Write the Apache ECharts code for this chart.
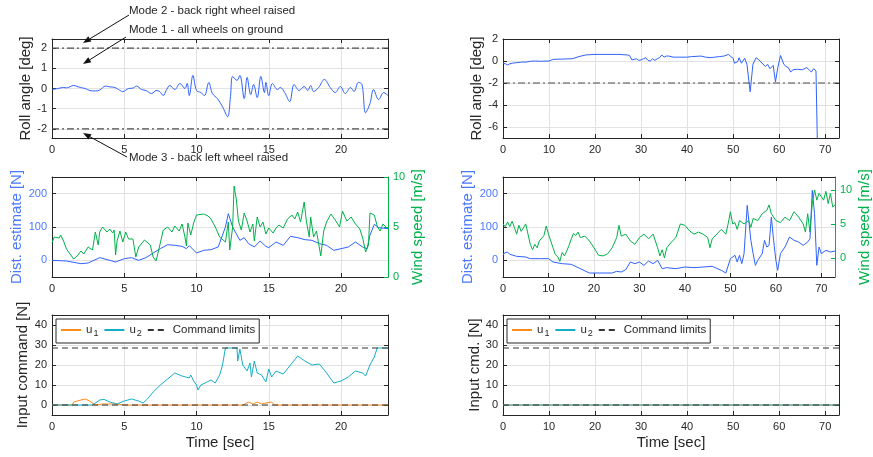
<!DOCTYPE html>
<html><head><meta charset="utf-8">
<script src="https://cdn.jsdelivr.net/npm/echarts@6/dist/echarts.min.js"></script>
<style>html,body{margin:0;padding:0;background:#fff}#c{width:873px;height:457px}</style>
</head><body><div id="c"></div>
<script>
// ---------------- DATA ----------------
const xRangeLeft = [0, 23.25];
const xRangeRight = [0, 73];
const xTicksLeft = [0, 5, 10, 15, 20];
const xTicksRight = [0, 10, 20, 30, 40, 50, 60, 70];
const rollTicksLeft = [-2, -1, 0, 1, 2];
const rollTicksRight = [-6, -4, -2, 0, 2];
const distTicks = [0, 100, 200];
const windTicks = [0, 5, 10];
const cmdTicks = [0, 10, 20, 30, 40];
const modeLimitsLeft = [2, -2];
const modeLimitsRight = [-2];
const commandLimits = [28.5, 0];

const rollLeft = [[0,-0.05],[0.4,0.0],[0.8,0.05],[1.0,0.03],[1.5,0.15],[1.95,0.05],[2.3,0.0],[2.6,-0.1],[3.0,-0.12],[3.3,-0.08],[3.7,0.12],[4.0,0.08],[4.35,0.05],[4.6,-0.05],[4.9,-0.15],[5.3,0.0],[5.6,0.02],[5.85,0.12],[6.2,-0.05],[6.5,-0.1],[6.9,-0.25],[7.2,-0.1],[7.45,-0.15],[7.7,-0.35],[7.9,-0.1],[8.15,0.15],[8.5,-0.05],[8.85,0.25],[9.2,0.0],[9.35,0.25],[9.5,-0.35],[9.75,0.65],[10.0,-0.1],[10.3,-0.2],[10.55,-0.35],[10.85,0.3],[11.1,-0.25],[11.45,-0.5],[11.8,-0.9],[12.15,-1.4],[12.35,-0.4],[12.5,0.6],[12.8,0.4],[13.0,0.65],[13.3,-0.5],[13.5,0.55],[13.75,-0.3],[13.95,0.2],[14.2,-0.45],[14.45,0.6],[14.7,-0.2],[14.8,0.3],[15.0,-0.35],[15.25,0.25],[15.6,-0.05],[15.8,0.05],[16.1,-0.2],[16.45,-0.65],[16.75,0.2],[17.1,-0.1],[17.45,0.1],[17.7,-0.1],[17.9,0.15],[18.1,-0.15],[18.45,0.05],[18.85,0.45],[19.25,0.05],[19.6,-0.2],[19.95,0.1],[20.3,-0.25],[20.65,0.05],[20.9,-0.15],[21.2,0.3],[21.45,0.2],[21.7,-1.2],[22.0,-0.75],[22.25,-0.05],[22.6,-0.55],[22.95,-0.2],[23.25,-0.35]];

const rollRight = [[0,-0.2],[0.5,-0.25],[1,-0.35],[1.5,-0.25],[2,-0.2],[3,-0.15],[4,-0.1],[5,-0.1],[6,-0.02],[7,0.0],[8,-0.02],[10,0.0],[10.5,0.08],[11,0.15],[13,0.18],[15,0.2],[16.5,0.4],[18,0.55],[20,0.6],[25,0.6],[27,0.55],[27.5,0.5],[28,0.1],[28.5,0.15],[29,0.2],[29.5,0.05],[30,0.1],[30.5,0.2],[31,0.3],[31.5,0.05],[32,0.0],[32.5,0.2],[33,0.05],[33.5,0.2],[34,0.3],[34.5,0.55],[35,0.35],[35.5,0.45],[36,0.45],[37,0.35],[38,0.35],[40,0.35],[41,0.4],[43,0.45],[44,0.35],[45,0.3],[46,0.35],[47,0.4],[48,0.45],[49,0.6],[49.5,0.4],[50,0.25],[50.3,-0.2],[51,-0.05],[51.3,0.3],[51.8,-0.2],[52.5,0.25],[53,-0.3],[53.7,-2.8],[54.3,-0.3],[55,0.3],[55.6,0.1],[56,0.2],[57,-0.5],[57.5,-0.3],[58,-0.7],[58.7,-0.4],[59.2,-1.9],[59.7,-0.6],[60.3,0.5],[61,-0.3],[61.5,-0.5],[62,-0.6],[62.5,-1.0],[63,-0.8],[64,-0.75],[65,-0.8],[66,-0.6],[66.5,-0.8],[67,-1.0],[67.5,-0.7],[68,-0.9],[68.3,-7.5]];

const distLeft = [[0,0],[1,-2],[2,-10],[2.5,-8],[3.3,8],[4,0],[4.4,-5],[5,5],[5.5,8],[6,0],[6.5,8],[7,22],[7.5,35],[8,47],[8.5,45],[9,42],[9.3,35],[9.5,44],[10,22],[10.5,30],[11,32],[11.5,40],[12,100],[12.2,140],[12.5,100],[13,60],[13.3,68],[13.6,50],[14,40],[14.4,58],[14.8,42],[15,38],[15.5,55],[16,45],[16.5,72],[17,68],[17.5,62],[18,60],[18.5,50],[19,45],[19.5,30],[20,35],[20.5,40],[21,55],[21.5,40],[21.8,35],[22,75],[22.3,108],[22.6,98],[23.25,95]];

const windLeft = [[0,3.4],[0.15,4.0],[0.5,3.9],[0.6,4.2],[0.8,3.6],[1.0,2.8],[1.3,2.2],[1.5,1.8],[1.8,2.2],[2.0,2.6],[2.2,2.3],[2.5,3.0],[2.8,2.7],[3.0,4.5],[3.2,3.2],[3.3,4.5],[3.5,5.0],[3.8,4.5],[4.0,4.8],[4.2,4.4],[4.3,4.7],[4.4,2.2],[4.5,3.6],[4.7,4.6],[4.9,3.5],[5.1,4.5],[5.3,3.8],[5.6,3.8],[5.8,2.0],[6.0,3.0],[6.4,3.7],[6.8,3.2],[7.0,2.0],[7.2,1.6],[7.4,2.8],[7.7,4.7],[8.0,5.0],[8.3,4.5],[8.5,5.1],[8.8,4.6],[9.0,5.3],[9.2,4.0],[9.3,3.1],[9.4,5.4],[9.6,4.2],[9.8,5.4],[10.0,6.2],[10.5,6.3],[10.8,6.1],[11.0,5.8],[11.3,5.0],[11.6,4.0],[12.0,3.5],[12.2,5.5],[12.3,2.7],[12.5,5.0],[12.6,9.1],[12.75,7.8],[12.9,5.6],[13.1,4.7],[13.3,6.4],[13.5,5.6],[13.7,4.5],[13.9,5.3],[14.0,3.6],[14.2,6.0],[14.4,5.0],[14.6,5.5],[14.8,4.3],[15.0,4.9],[15.3,4.4],[15.5,4.9],[15.7,5.2],[16.0,4.9],[16.3,5.8],[16.6,6.2],[16.8,5.8],[17.0,6.5],[17.2,5.5],[17.45,7.5],[17.6,5.6],[17.8,4.0],[17.9,6.0],[18.1,4.0],[18.3,4.6],[18.6,2.1],[18.8,4.6],[19.0,5.5],[19.3,6.3],[19.6,5.7],[19.9,5.0],[20.1,6.6],[20.4,5.6],[20.7,6.0],[21.0,5.3],[21.3,4.8],[21.5,3.9],[21.7,2.5],[21.9,3.2],[22.0,6.4],[22.3,6.2],[22.5,5.1],[22.7,4.6],[22.9,5.3],[23.25,4.8]];

const distRight = [[0,15],[0.3,22],[1,25],[1.5,18],[3,12],[5,10],[6,5],[8,5],[10,5],[11,-5],[13,-10],[15,-12],[17,-25],[19,-38],[22,-38],[24,-38],[25,-33],[26,-35],[27,-28],[28,-5],[29,-10],[30,-5],[31,-15],[32,-2],[33,-10],[34,0],[35,-25],[36,-22],[38,-25],[40,-20],[42,-22],[44,-20],[46,-18],[48,-30],[49,-38],[50,5],[51,15],[51.5,-5],[52,15],[52.5,-10],[53,20],[53.7,165],[54.5,60],[55,20],[55.5,-15],[56,0],[57,20],[57.5,60],[58,40],[58.5,45],[59,130],[59.5,60],[60,0],[60.4,-30],[61,20],[62,40],[63,70],[64,60],[65,55],[66,45],[67,55],[67.5,65],[68,210],[68.5,140],[69,-15],[69.5,40],[70,20],[71,30],[72,25],[73,28]];

const windRight = [[0,5.0],[0.5,4.6],[1,5.3],[1.5,4.6],[2,5.4],[2.5,4.5],[3,3.5],[3.5,4.8],[4,3.9],[5,5.0],[5.5,3.5],[6,2.0],[6.5,1.2],[7,2.0],[7.5,1.5],[8,2.5],[9,3.3],[9.5,4.7],[10,3.5],[10.5,2.5],[11,1.5],[11.5,0.5],[12,0.2],[12.5,-0.5],[13,0.8],[13.5,0.3],[14,1.0],[14.5,1.8],[15,2.8],[15.5,3.6],[16,3.3],[16.5,3.8],[17,3.0],[18,3.2],[19,2.5],[20,1.5],[21,0.4],[22,0.3],[23,0.6],[24,1.5],[25,3.0],[25.5,4.8],[26,3.2],[27,3.5],[28,2.5],[29,2.0],[30,3.0],[31,3.5],[32,2.8],[33,3.5],[34,1.5],[34.5,0.3],[35,1.2],[35.5,0.0],[36,1.5],[37,2.3],[38,3.0],[39,5.0],[40,4.8],[41,4.0],[42,3.5],[43,3.8],[44,3.5],[45,3.0],[45.5,1.5],[46,2.8],[47,3.5],[48,4.2],[49,3.5],[49.5,5.0],[50,6.8],[50.5,5.0],[51,5.2],[51.5,4.2],[52,5.5],[53,5.0],[54,5.5],[54.5,4.5],[55,5.8],[56,5.5],[57,6.5],[58,7.0],[58.5,7.8],[59,6.5],[60,5.5],[61,5.2],[62,6.0],[63,5.5],[64,6.8],[65,6.0],[66,5.0],[66.5,3.8],[67,6.5],[67.5,3.8],[68,8.0],[68.5,10.0],[69,8.5],[69.5,9.5],[70,9.0],[70.5,8.5],[71,9.8],[71.5,8.0],[72,9.5],[72.5,7.5],[73,7.8]];

const u2Left = [[0,0],[1.5,0],[2.8,0],[3.3,2.5],[3.6,2.8],[4,1.5],[4.5,0.5],[5,2.0],[5.5,3.0],[6,2.0],[6.3,1.0],[6.6,3.0],[7,6.5],[7.5,10],[8,13],[8.5,16],[9,14.5],[9.5,13.5],[9.6,15],[9.8,12],[10,10],[10.1,7.5],[10.3,10],[10.6,11],[11,12.5],[11.3,11],[11.6,15],[11.8,20],[12.0,28.5],[12.5,28.5],[12.8,28.5],[12.85,22],[13,28],[13.2,20],[13.5,17],[13.7,21],[13.8,14],[14.0,22],[14.2,16],[14.5,15],[14.8,11.5],[15,18],[15.2,14],[15.5,17],[16,15.5],[16.5,20],[17,24.5],[17.5,22],[18,20],[18.5,20.5],[19,16],[19.5,11],[20,12],[20.5,14],[21,17],[21.5,16],[21.7,14.5],[22,20],[22.3,24],[22.5,28.5],[23.25,28.5]];
const u1Left = [[0,0],[1.4,0],[1.5,1.5],[2,2.5],[2.3,3],[2.6,2],[3,0],[3.5,0.5],[4.5,0.5],[5,0],[9.8,0],[9.9,1],[10,0],[11,0],[11.1,0.8],[11.2,0],[13.2,0],[13.3,1],[13.6,1.5],[13.9,0.5],[14.2,1.5],[14.5,0.5],[14.8,1],[15.2,1.5],[15.4,0],[21.9,0],[22,1],[22.1,0],[23.25,0]];
const u1Right = [[0,0],[73,0]];
const u2Right = [[0,0],[73,0]];

// ---------------- STYLE ----------------
const FONT = '"Liberation Sans", Arial, Helvetica, sans-serif';
const AX = '#262626', GRIDC = '#e2e2e2';
const BLUE = '#2f62ff', BLUE_T = '#4a78ff', GREEN = '#00b24a', ORANGE = '#ff8a1c', CYAN = '#16aec6';

const grids = [
  {left:52, top:39, width:336, height:99},
  {left:503, top:39, width:336, height:99},
  {left:52, top:177, width:336, height:100},
  {left:503, top:177, width:336, height:100},
  {left:52, top:315, width:336, height:100},
  {left:503, top:315, width:336, height:100}
];
const xr = [xRangeLeft, xRangeRight, xRangeLeft, xRangeRight, xRangeLeft, xRangeRight];
const xt = [xTicksLeft, xTicksRight, xTicksLeft, xTicksRight, xTicksLeft, xTicksRight];
const yr = [[-2.45,2.45],[-7,2],[-50,250],[-50,250],[-5,45],[-5,45]];
const yt = [rollTicksLeft, rollTicksRight, distTicks, distTicks, cmdTicks, cmdTicks];
const yNames = ['Roll angle [deg]','Roll angle [deg]','Dist. estimate [N]','Dist. estimate [N]','Input command [N]','Input cmd. [N]'];
const yGaps = [19,18,27,27,22,21];

const xAxes = [], yAxes = [];
for (let g = 0; g < 6; g++) {
  xAxes.push({
    gridIndex:g, type:'value', min:xr[g][0], max:xr[g][1], position:'bottom',
    axisLine:{show:true, onZero:false, lineStyle:{color:AX, width:1}},
    axisTick:{show:true, inside:true, length:4, customValues:xt[g], lineStyle:{color:AX}},
    axisLabel:{show:true, customValues:xt[g], fontSize:11, color:AX, margin:6, fontFamily:FONT},
    splitLine:{show:true, lineStyle:{color:GRIDC, width:1}},
    name: g >= 4 ? 'Time [sec]' : '', nameLocation:'middle', nameGap:20,
    nameTextStyle:{fontSize:15, color:AX, fontFamily:FONT}
  });
}
for (let g = 0; g < 6; g++) {
  xAxes.push({
    gridIndex:g, type:'value', min:xr[g][0], max:xr[g][1], position:'top',
    axisLine:{show:true, onZero:false, lineStyle:{color:AX, width:1}},
    axisTick:{show:true, inside:true, length:4, customValues:xt[g], lineStyle:{color:AX}},
    axisLabel:{show:false}, splitLine:{show:false}
  });
}
for (let g = 0; g < 6; g++) {
  const mid = (g === 2 || g === 3);
  yAxes.push({
    gridIndex:g, type:'value', min:yr[g][0], max:yr[g][1], position:'left',
    axisLine:{show:true, onZero:false, lineStyle:{color:AX, width:1}},
    axisTick:{show:true, inside:true, length:4, customValues:yt[g], lineStyle:{color:AX}},
    axisLabel:{show:true, customValues:yt[g], fontSize:11, color: mid ? BLUE_T : AX, margin:5, fontFamily:FONT},
    splitLine:{show:true, lineStyle:{color:GRIDC, width:1}},
    name: yNames[g], nameLocation:'middle', nameGap:yGaps[g],
    nameTextStyle:{fontSize:15, color: mid ? BLUE_T : AX, fontFamily:FONT}
  });
}
const windRanges = {2:[0,10], 3:[-2.8,11.9]};
for (let g = 0; g < 6; g++) {
  const mid = (g === 2 || g === 3);
  if (mid) {
    yAxes.push({
      gridIndex:g, type:'value', min:windRanges[g][0], max:windRanges[g][1], position:'right',
      axisLine:{show:true, onZero:false, lineStyle:{color:GREEN, width:1}},
      axisTick:{show:true, inside:true, length:4, customValues:windTicks, lineStyle:{color:GREEN}},
      axisLabel:{show:true, customValues:windTicks, fontSize:11, color:GREEN, margin:5, fontFamily:FONT},
      splitLine:{show:false},
      name:'Wind speed [m/s]', nameLocation:'middle', nameGap:22,
      nameTextStyle:{fontSize:15, color:GREEN, fontFamily:FONT}
    });
  } else {
    yAxes.push({
      gridIndex:g, type:'value', min:yr[g][0], max:yr[g][1], position:'right',
      axisLine:{show:true, onZero:false, lineStyle:{color:AX, width:1}},
      axisTick:{show:true, inside:true, length:4, customValues:yt[g], lineStyle:{color:AX}},
      axisLabel:{show:false}, splitLine:{show:false}
    });
  }
}

function line(name, data, xi, yi, color, extra) {
  return Object.assign({
    type:'line', name:name, data:data, xAxisIndex:xi, yAxisIndex:yi,
    symbol:'none', showSymbol:false, animation:false, silent:true,
    lineStyle:{color:color, width:1}, itemStyle:{color:color}, z:3
  }, extra || {});
}
function hline(name, v, range, xi, yi, color, type) {
  return line(name, [[range[0], v], [range[1], v]], xi, yi, color, {lineStyle:{color:color, width:1.2, type:type}, z:4});
}
const DASHDOT = [7,3,2,3];
const DASH = [6,4];

const series = [];
series.push(line('roll', rollLeft, 0, 0, BLUE, {smooth:0.35}));
modeLimitsLeft.forEach(v => series.push(hline('mode', v, xRangeLeft, 0, 0, '#4d4d4d', DASHDOT)));
series.push(line('roll', rollRight, 1, 1, BLUE));
modeLimitsRight.forEach(v => series.push(hline('mode', v, xRangeRight, 1, 1, '#4d4d4d', DASHDOT)));
series.push(line('dist', distLeft, 2, 2, BLUE));
series.push(line('wind', windLeft, 2, 8, GREEN));
series.push(line('dist', distRight, 3, 3, BLUE));
series.push(line('wind', windRight, 3, 9, GREEN));
series.push(line('u1', u1Left, 4, 4, ORANGE));
series.push(line('u2', u2Left, 4, 4, CYAN));
commandLimits.forEach(v => series.push(hline('Command limits', v, xRangeLeft, 4, 4, '#333333', DASH)));
series.push(line('u1', u1Right, 5, 5, ORANGE));
series.push(line('u2', u2Right, 5, 5, CYAN));
commandLimits.forEach(v => series.push(hline('Command limits', v, xRangeRight, 5, 5, '#333333', DASH)));

function legend(left) {
  return {
    left:left, top:319, orient:'horizontal', itemWidth:20, itemHeight:10, itemGap:5,
    padding:[5,4,5,4], borderColor:AX, borderWidth:1, borderRadius:0, backgroundColor:'#fff',
    data:['u1','u2','Command limits'], selectedMode:false,
    itemStyle:{opacity:0, color:'rgba(0,0,0,0)', borderWidth:0},
    formatter: n => n === 'u1' ? '{u|u}{s|1}' : (n === 'u2' ? '{u|u}{s|2}' : n),
    textStyle:{fontSize:11.5, color:AX, fontFamily:FONT,
      rich:{u:{fontSize:11.5, color:AX, fontFamily:FONT}, s:{fontSize:9, color:AX, fontFamily:FONT, padding:[7,0,0,1]}}}
  };
}

function arrow(x1, y1, x2, y2) {
  const dx = x2 - x1, dy = y2 - y1, L = Math.hypot(dx, dy);
  const ux = dx / L, uy = dy / L, hl = 8, hw = 3;
  const bx = x2 - ux * hl, by = y2 - uy * hl;
  return [
    {type:'line', shape:{x1:x1, y1:y1, x2:bx, y2:by}, style:{stroke:'#111', lineWidth:1}, z:100},
    {type:'polygon', shape:{points:[[x2,y2],[bx - uy*hw, by + ux*hw],[bx + uy*hw, by - ux*hw]]}, style:{fill:'#111'}, z:100}
  ];
}
function label(text, x, y) {
  return {type:'text', x:x, y:y, z:100, style:{text:text, fontSize:11.5, fill:AX, fontFamily:FONT, textVerticalAlign:'middle'}};
}

const graphic = [].concat(
  [label('Mode 2 - back right wheel raised', 129, 11)],
  [label('Mode 1 - all wheels on ground', 129, 30)],
  [label('Mode 3 - back left wheel raised', 129, 158)],
  arrow(129, 15, 83, 43),
  arrow(126, 37, 83, 64),
  arrow(127, 157, 83, 133)
);

const chart = echarts.init(document.getElementById('c'), null, {renderer:'canvas'});
chart.setOption({
  animation:false,
  backgroundColor:'#fff',
  grid:grids,
  xAxis:xAxes,
  yAxis:yAxes,
  legend:[legend(56), legend(507)],
  series:series,
  graphic:graphic
});
</script></body></html>
